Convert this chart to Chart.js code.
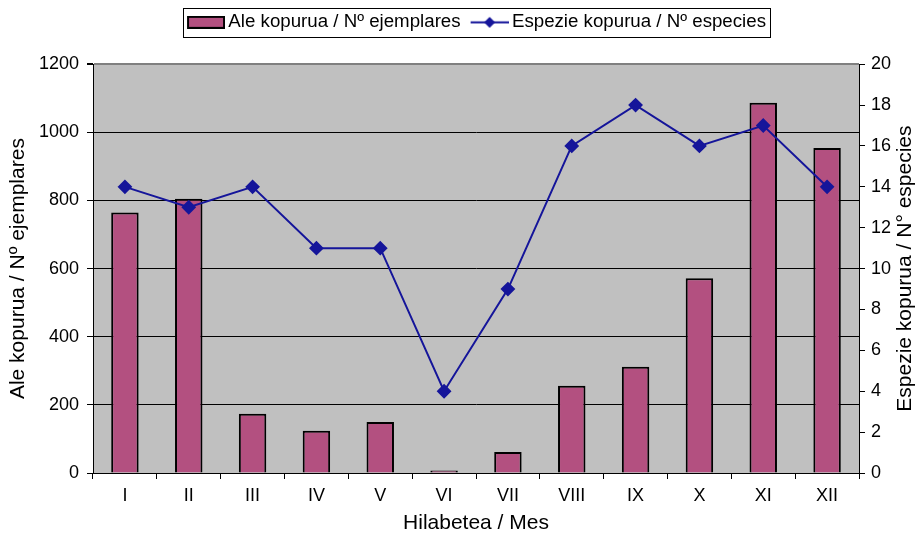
<!DOCTYPE html>
<html><head><meta charset="utf-8">
<script src="https://cdn.jsdelivr.net/npm/chart.js@4/dist/chart.umd.min.js"></script>
<style>html,body{margin:0;padding:0;background:#fff}#wrap{width:921px;height:536px;position:relative}</style>
</head><body><div id="wrap"><canvas id="c" width="921" height="536"></canvas></div>
<script>
const months = ['I','II','III','IV','V','VI','VII','VIII','IX','X','XI','XII'];
const specimens = [765, 805, 174, 124, 150, 7, 62, 256, 312, 572, 1087, 954];
const species = [14, 13, 14, 11, 11, 4, 9, 16, 18, 16, 17, 14];
const barLabel = 'Ale kopurua / Nº ejemplares';
const lineLabel = 'Espezie kopurua / Nº especies';
const leftTitle = 'Ale kopurua / Nº ejemplares';
const rightTitle = 'Espezie kopurua / N° especies';
const xTitle = 'Hilabetea / Mes';

const BAR_COLOR = '#B35080';
const LINE_COLOR = '#15159A';
const FONT = "'Liberation Sans', Arial, sans-serif";

// legend icons: 44px wide canvas, visible content occupies x = 6..44
function makeBarIcon() {
  const c = document.createElement('canvas'); c.width = 44; c.height = 13;
  const x = c.getContext('2d');
  x.fillStyle = BAR_COLOR; x.fillRect(7, 1, 36, 11);
  x.strokeStyle = '#000'; x.lineWidth = 2; x.strokeRect(7, 1, 36, 11);
  return c;
}
function makeLineIcon() {
  const c = document.createElement('canvas'); c.width = 44; c.height = 13;
  const x = c.getContext('2d');
  x.strokeStyle = LINE_COLOR; x.lineWidth = 2;
  x.beginPath(); x.moveTo(6, 6.5); x.lineTo(44, 6.5); x.stroke();
  x.fillStyle = LINE_COLOR;
  x.beginPath(); x.moveTo(25, 1); x.lineTo(30.5, 6.5); x.lineTo(25, 12); x.lineTo(19.5, 6.5); x.closePath(); x.fill();
  return c;
}
const icons = [makeBarIcon(), makeLineIcon()];
const LEGEND_SHIFT = 16;

const plotBg = {
  id: 'plotBg',
  beforeLayout(chart) {
    const lg = chart.legend;
    if (lg && !lg._extraWrapped) {
      const f = lg.fit;
      lg.fit = function () { f.call(this); this.height += 22.5; };
      const d = lg.draw;
      lg.draw = function () {
        this.left += LEGEND_SHIFT; this.right += LEGEND_SHIFT;
        try { d.apply(this, arguments); } finally { this.left -= LEGEND_SHIFT; this.right -= LEGEND_SHIFT; }
      };
      lg._extraWrapped = true;
    }
  },
  beforeDraw(chart) {
    const {ctx, chartArea: a} = chart;
    ctx.save(); ctx.fillStyle = '#C0C0C0';
    ctx.fillRect(a.left, a.top, a.right - a.left, a.bottom - a.top);
    ctx.restore();
  },
  afterDraw(chart) {
    const ctx = chart.ctx;
    const lg = chart.legend;
    if (lg && lg.legendHitBoxes && lg.legendHitBoxes.length) {
      const hb = lg.legendHitBoxes;
      let l = Infinity, r = -Infinity, t = Infinity, b = -Infinity;
      hb.forEach(h => { l = Math.min(l, h.left); r = Math.max(r, h.left + h.width); t = Math.min(t, h.top); b = Math.max(b, h.top + h.height); });
      l += LEGEND_SHIFT; r += LEGEND_SHIFT;
      ctx.save(); ctx.strokeStyle = '#000'; ctx.lineWidth = 1;
      const cy = (t + b) / 2;
      ctx.strokeRect(Math.round(l - 4) + 0.5, Math.round(cy - 14) + 0.5, Math.round(r - l + 8), 29);
      ctx.restore();
    }
    // right axis title, reading bottom-to-top
    const a = chart.chartArea;
    ctx.save();
    ctx.translate(905, (a.top + a.bottom) / 2);
    ctx.rotate(-Math.PI / 2);
    ctx.font = '21px ' + FONT;
    ctx.fillStyle = '#000';
    ctx.textAlign = 'center'; ctx.textBaseline = 'middle';
    ctx.fillText(rightTitle, 0, 0);
    ctx.restore();
  }
};

new Chart(document.getElementById('c'), {
  data: {
    labels: months,
    datasets: [
      { type: 'bar', label: barLabel, data: specimens, yAxisID: 'y', order: 1,
        backgroundColor: BAR_COLOR, borderColor: '#000', borderWidth: 2,
        barPercentage: 0.43, categoryPercentage: 1 },
      { type: 'line', label: lineLabel, data: species, yAxisID: 'y1', order: 0,
        borderColor: LINE_COLOR, backgroundColor: LINE_COLOR, borderWidth: 2,
        pointStyle: 'rectRot', pointRadius: 6, pointHoverRadius: 6, tension: 0 }
    ]
  },
  options: {
    responsive: false, animation: false, devicePixelRatio: 1,
    layout: { padding: { top: 3, left: 0, right: 0, bottom: 0 } },
    plugins: {
      tooltip: { enabled: false },
      legend: {
        position: 'top',
        labels: {
          usePointStyle: true, pointStyleWidth: 32, padding: 10,
          color: '#000', font: { family: FONT, size: 18.7 },
          generateLabels(chart) {
            const items = Chart.defaults.plugins.legend.labels.generateLabels(chart);
            items.sort((a, b) => a.datasetIndex - b.datasetIndex);
            items.forEach(it => { it.pointStyle = icons[it.datasetIndex]; });
            return items;
          }
        }
      }
    },
    scales: {
      x: {
        offset: true,
        grid: { offset: true, drawOnChartArea: false, drawTicks: true, tickLength: 6, color: '#000' },
        border: { color: '#000', width: 1 },
        ticks: { color: '#000', font: { family: FONT, size: 18 }, padding: 6 },
        title: { display: true, text: xTitle, color: '#000', font: { family: FONT, size: 21 }, padding: { top: 0, bottom: 0 } },
        afterFit(s) { s.height = 63; }
      },
      y: {
        position: 'left', min: 0, max: 1200,
        ticks: { stepSize: 200, color: '#000', font: { family: FONT, size: 18 }, padding: 8,
          callback: v => String(v) },
        grid: { color: ctx => (ctx.tick && ctx.tick.value === 1200 ? '#808080' : '#000'), lineWidth: ctx => (ctx.tick && ctx.tick.value === 1200 ? 2 : 1), tickLength: 6, tickColor: '#000' },
        border: { color: '#000', width: 1 },
        title: { display: true, text: leftTitle, color: '#000', font: { family: FONT, size: 21 }, padding: { top: 6, bottom: 4 } },
        afterFit(s) { s.width = 93; }
      },
      y1: {
        position: 'right', min: 0, max: 20,
        ticks: { stepSize: 2, color: '#000', font: { family: FONT, size: 18 }, padding: 6 },
        grid: { drawOnChartArea: false, tickLength: 6, color: '#000' },
        border: { color: '#000', width: 1 },
        title: { display: false, text: rightTitle },
        afterFit(s) { s.width = 62; }
      }
    }
  },
  plugins: [plotBg]
});
</script></body></html>
